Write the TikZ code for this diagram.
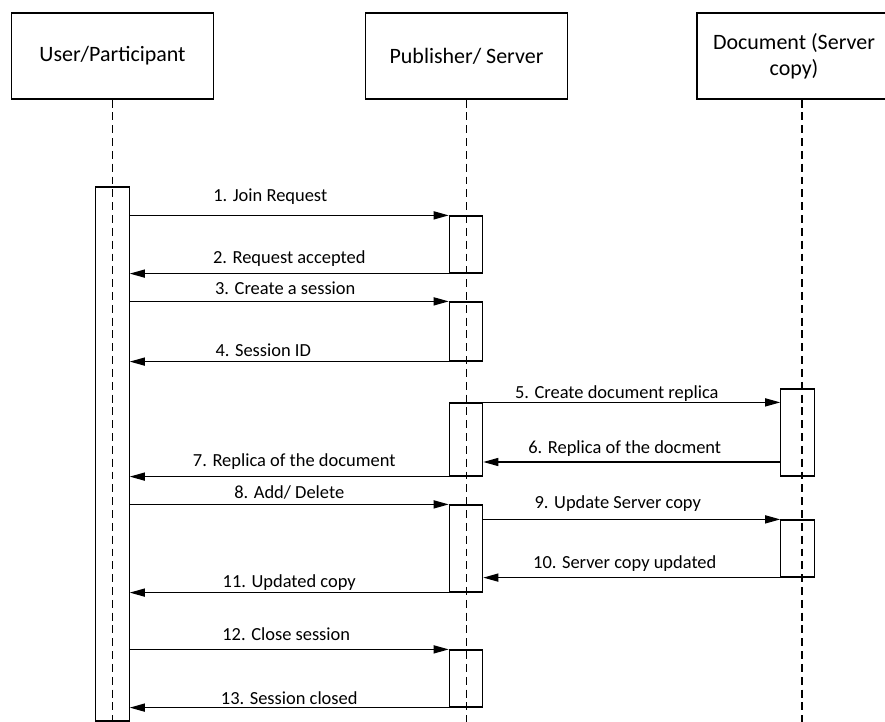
\documentclass[tikz,border=0pt]{standalone}
\usepackage{fontspec}
\setmainfont{Carlito}
\usetikzlibrary{arrows.meta,positioning}
\tikzset{
  actor/.style={draw,line width=0.7pt,minimum width=4.04cm,minimum height=1.72cm,align=center,font=\fontsize{12.5}{15}\selectfont},
  bar/.style={draw,line width=0.7pt,minimum width=0.67cm,inner sep=0pt},
  life/.style={line width=0.7pt,dash pattern=on 4.5pt off 2.8pt},
  msg/.style={-{Triangle[length=8.5pt,width=4.6pt]},line width=0.7pt},
  lbl/.style={midway,font=\fontsize{10.5}{12}\selectfont,inner sep=0pt},
}
\begin{document}
\begin{tikzpicture}[x=0.02cm,y=-0.02cm]
  \useasboundingbox (0,0) rectangle (885,722);
  \clip (0,0) rectangle (885,722);
  % heads
  \node[actor] (user) at (112.5,56) {User/Participant};
  \node[actor] (pub) at (466.5,56) {Publisher/ Server};
  \node[actor,minimum width=4.4cm] (doc) at (807,56) {};
  \node[align=center,font=\fontsize{12.5}{15}\selectfont] (doctxt) at ([xshift=-0.26cm]doc.center) {Document (Server\\copy)};

  % lifelines
  \draw[life] (user.south) -- ++(0,623);
  \draw[life] (pub.south) -- ++(0,623);
  \draw[life] ([xshift=-0.1cm]doc.south) -- ++(0,623);

  % activation bars
  \node[bar,minimum height=10.68cm] (ub) at (112.5,454) {};
  \node[bar,minimum height=1.14cm] (pa1) at (466,244.5) {};
  \node[bar,minimum height=1.18cm] (pa2) at (466,331.5) {};
  \node[bar,minimum height=1.46cm] (pa3) at (466,439.5) {};
  \node[bar,minimum height=1.74cm] (pa4) at (466,548.5) {};
  \node[bar,minimum height=1.14cm] (pa5) at (466,678.5) {};
  \node[bar,minimum height=1.74cm] (da1) at (797.5,432.5) {};
  \node[bar,minimum height=1.14cm] (da2) at (797.5,548.5) {};

  % messages
  \draw[msg] (ub.east |- pa1.north) -- node[lbl,xshift=-0.38cm,yshift=0.38cm] {1. Join Request} (pa1.north west);
  \draw[msg] (pa1.south west) -- node[lbl,yshift=0.3cm] {2. Request accepted} (ub.east |- pa1.south);
  \draw[msg] (ub.east |- pa2.north) -- node[lbl,xshift=-0.08cm,yshift=0.26cm] {3. Create a session} (pa2.north west);
  \draw[msg] (pa2.south west) -- node[lbl,xshift=-0.52cm,yshift=0.22cm] {4. Session ID} (ub.east |- pa2.south);
  \draw[msg] (pa3.north east) -- node[lbl,xshift=-0.3cm,yshift=0.18cm] {5. Create document replica} (da1.west |- pa3.north);
  \draw[msg] (da1.west |- 0,462) -- node[lbl,xshift=-0.14cm,yshift=0.26cm] {6. Replica of the docment} (pa3.east |- 0,462);
  \draw[msg] (pa3.south west) -- node[lbl,xshift=0.1cm,yshift=0.3cm] {7. Replica of the document} (ub.east |- pa3.south);
  \draw[msg] (ub.east |- pa4.north) -- node[lbl,yshift=0.24cm] {8. Add/ Delete} (pa4.north west);
  \draw[msg] (pa4.east |- da2.north) -- node[lbl,xshift=-0.28cm,yshift=0.32cm] {9. Update Server copy} (da2.north west);
  \draw[msg] (da2.south west) -- node[lbl,xshift=-0.14cm,yshift=0.28cm] {10. Server copy updated} (pa4.east |- da2.south);
  \draw[msg] (pa4.south west) -- node[lbl,yshift=0.2cm] {11. Updated copy} (ub.east |- pa4.south);
  \draw[msg] (ub.east |- pa5.north) -- node[lbl,xshift=-0.06cm,yshift=0.3cm] {12. Close session} (pa5.north west);
  \draw[msg] (pa5.south west) -- node[lbl,yshift=0.18cm] {13. Session closed} (ub.east |- pa5.south);
\end{tikzpicture}
\end{document}
